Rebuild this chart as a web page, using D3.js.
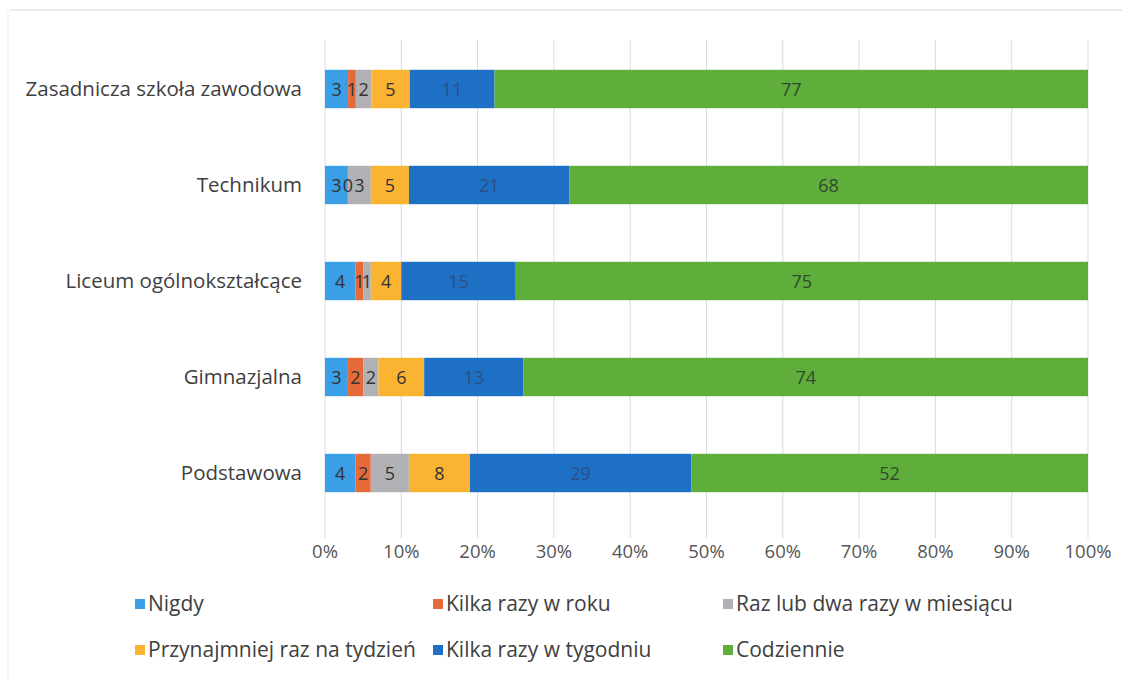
<!DOCTYPE html>
<html lang="pl">
<head>
  <meta charset="UTF-8">
  <title>Częstotliwość</title>
  <script src="https://d3js.org/d3.v7.min.js"></script>
  <style>
    html, body { margin: 0; padding: 0; background: #fff; }
    svg text { font-family: "Open Sans", "Lato", sans-serif; }
  </style>
</head>
<body>
  <svg id="chart" width="1131" height="679"></svg>

  <script>
    // Data
    const categories = [
      "Zasadnicza szkoła zawodowa",
      "Technikum",
      "Liceum ogólnokształcące",
      "Gimnazjalna",
      "Podstawowa"
    ];
    const seriesNames = [
      "Nigdy",
      "Kilka razy w roku",
      "Raz lub dwa razy w miesiącu",
      "Przynajmniej raz na tydzień",
      "Kilka razy w tygodniu",
      "Codziennie"
    ];
    const nigdy        = [3, 3, 4, 3, 4];
    const kilkaRok     = [1, 0, 1, 2, 2];
    const razDwa       = [2, 3, 1, 2, 5];
    const przynajmniej = [5, 5, 4, 6, 8];
    const kilkaTydz    = [11, 21, 15, 13, 29];
    const codziennie   = [77, 68, 75, 74, 52];
    const tickLabels = ["0%", "10%", "20%", "30%", "40%", "50%", "60%", "70%", "80%", "90%", "100%"];

    const seriesValues = [nigdy, kilkaRok, razDwa, przynajmniej, kilkaTydz, codziennie];
    const colors = ["#3a9fe6", "#e6693a", "#b1b1b5", "#fbb431", "#1e70c4", "#5fae3b"];
    const labelColors = ["#333", "#333", "#333", "#333", "#2c4f86", "#2f4a2c"];

    const svg = d3.select("#chart");
    const plot = { left: 325, right: 1088, top: 40, bottom: 538 };

    // one row per category, normalised to 100% like Excel does
    const rows = categories.map((c, i) => {
      const r = { cat: c };
      seriesNames.forEach((s, k) => r[s] = seriesValues[k][i]);
      return r;
    });

    const stack = d3.stack().keys(seriesNames).offset(d3.stackOffsetExpand);
    const stacked = stack(rows);

    const x = d3.scaleLinear().domain([0, 1]).range([plot.left, plot.right]);
    const y = d3.scaleBand().domain(categories).range([50.6, 511.4])
      .paddingInner(0.6).paddingOuter(0.2);

    // faint frame of the scanned chart
    svg.append("line").attr("x1", 10).attr("x2", 1122).attr("y1", 10).attr("y2", 10)
      .attr("stroke", "#d8d8d8").attr("stroke-width", 1);
    svg.append("line").attr("x1", 8).attr("x2", 8).attr("y1", 10).attr("y2", 679)
      .attr("stroke", "#ececec").attr("stroke-width", 1);

    // gridlines
    const ticks = d3.range(0, 1.0001, 0.1);
    svg.append("g").selectAll("line")
      .data(ticks)
      .enter()
      .append("line")
      .attr("x1", d => x(d)).attr("x2", d => x(d))
      .attr("y1", plot.top).attr("y2", plot.bottom)
      .attr("stroke", "#d9d9e3").attr("stroke-width", 1);

    // tick labels
    svg.append("g").selectAll("text")
      .data(ticks)
      .enter()
      .append("text")
      .attr("x", d => x(d))
      .attr("y", 558)
      .attr("text-anchor", "middle")
      .attr("font-size", 18.5)
      .attr("fill", "#555")
      .text((d, i) => tickLabels[i]);

    // category labels
    svg.append("g").selectAll("text")
      .data(categories)
      .enter()
      .append("text")
      .attr("x", 302)
      .attr("y", d => y(d) + y.bandwidth() / 2 + 7)
      .attr("text-anchor", "end")
      .attr("font-size", 20.5)
      .attr("fill", "#404040")
      .text(d => d);

    // bars
    const layers = svg.append("g").selectAll("g")
      .data(stacked)
      .enter()
      .append("g")
      .attr("fill", (d, i) => colors[i]);

    layers.selectAll("rect")
      .data(d => d)
      .enter()
      .append("rect")
      .attr("x", d => x(d[0]))
      .attr("y", d => y(d.data.cat))
      .attr("width", d => x(d[1]) - x(d[0]))
      .attr("height", y.bandwidth());

    // value labels
    stacked.forEach((layer, k) => {
      svg.append("g").selectAll("text")
        .data(layer)
        .enter()
        .append("text")
        .attr("x", d => (x(d[0]) + x(d[1])) / 2)
        .attr("y", d => y(d.data.cat) + y.bandwidth() / 2 + 6.5)
        .attr("text-anchor", "middle")
        .attr("font-size", 18)
        .attr("fill", labelColors[k])
        .text(d => d.data[layer.key]);
    });

    // legend
    const legendX = [135, 433, 723];
    const legendY = [604, 650];
    const legend = svg.append("g").selectAll("g")
      .data(seriesNames)
      .enter()
      .append("g")
      .attr("transform", (d, i) => `translate(${legendX[i % 3]},${legendY[Math.floor(i / 3)]})`);

    legend.append("rect")
      .attr("x", 0).attr("y", -5)
      .attr("width", 10).attr("height", 10)
      .attr("fill", (d, i) => colors[i]);

    legend.append("text")
      .attr("x", 13)
      .attr("y", 7)
      .attr("font-size", 21)
      .attr("fill", "#404040")
      .text(d => d);
  </script>
</body>
</html>
